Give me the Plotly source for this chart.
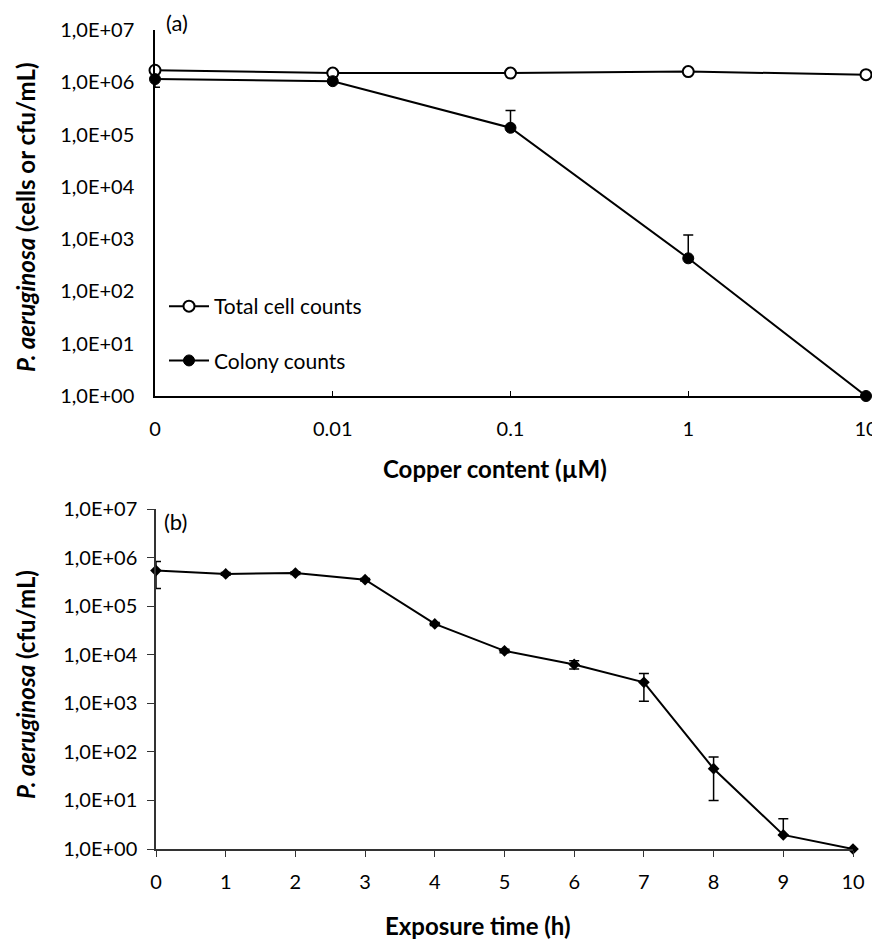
import plotly.graph_objects as go

# ---- Panel (a) data ----
copper_cats = ["0", "0.01", "0.1", "1", "10"]
total_cells = [1.7e6, 1.5e6, 1.5e6, 1.6e6, 1.4e6]
colony_a = [1.15e6, 1.05e6, 1.35e5, 4.3e2, 1.0]
colony_a_err_plus = [0, 0, 1.55e5, 7.7e2, 0]
colony_a_err_minus = [3.5e5, 0, 0, 0, 0]

# ---- Panel (b) data ----
time_h = [0, 1, 2, 3, 4, 5, 6, 7, 8, 9, 10]
colony_b = [5.4e5, 4.6e5, 4.8e5, 3.5e5, 4.3e4, 1.2e4, 6.3e3, 2.7e3, 45, 1.95, 1.0]
colony_b_err_plus = [2.9e5, 3e4, 3e4, 2e4, 3e3, 1e3, 1.2e3, 1.4e3, 33, 2.25, 0]
colony_b_err_minus = [3.1e5, 3e4, 3e4, 2e4, 3e3, 1e3, 1.2e3, 1.6e3, 35, 0, 0]

ytick_vals = [1, 10, 100, 1e3, 1e4, 1e5, 1e6, 1e7]
ytick_text = ["1,0E+00", "1,0E+01", "1,0E+02", "1,0E+03", "1,0E+04", "1,0E+05", "1,0E+06", "1,0E+07"]

FONT = "Lato"
OFF = 8                # page body margin
W, H = 880 - OFF, 945 - OFF


def px(x):
    return (x - OFF) / W


def py(y):
    return 1 - (y - OFF) / H


fig = go.Figure()

fig.add_trace(go.Scatter(
    x=copper_cats, y=total_cells, mode="lines+markers", name="Total cell counts",
    line=dict(color="black", width=2),
    marker=dict(symbol="circle", size=11, color="white", line=dict(color="black", width=2)),
    xaxis="x", yaxis="y", cliponaxis=False, legendgroup="a1",
))
fig.add_trace(go.Scatter(
    x=copper_cats, y=colony_a, mode="lines+markers", name="Colony counts",
    line=dict(color="black", width=2),
    marker=dict(symbol="circle", size=11, color="black", line=dict(color="black", width=1)),
    error_y=dict(type="data", array=colony_a_err_plus, arrayminus=colony_a_err_minus,
                 symmetric=False, color="black", thickness=1.5, width=5),
    xaxis="x", yaxis="y", cliponaxis=False, legendgroup="a2",
))
fig.add_trace(go.Scatter(
    x=time_h, y=colony_b, mode="lines+markers", showlegend=False,
    line=dict(color="black", width=2),
    marker=dict(symbol="diamond", size=9, color="black"),
    error_y=dict(type="data", array=colony_b_err_plus, arrayminus=colony_b_err_minus,
                 symmetric=False, color="black", thickness=1.5, width=5),
    xaxis="x2", yaxis="y2", cliponaxis=False,
))

top_x0, top_x1, top_y0, top_y1 = 155, 866, 30, 396
bot_x0, bot_x1, bot_y0, bot_y1 = 156, 853, 509, 849

tickfont = dict(family=FONT, size=20, color="black")

fig.update_layout(
    width=W, height=H,
    margin=dict(l=0, r=0, t=0, b=0, autoexpand=False),
    paper_bgcolor="white", plot_bgcolor="white",
    font=dict(family=FONT, size=20, color="black"),
    showlegend=True,
    legend=dict(x=px(164), y=py(286), xanchor="left", yanchor="top",
                font=dict(family=FONT, size=21, color="black"),
                bgcolor="rgba(0,0,0,0)", tracegroupgap=24, itemwidth=40),
    xaxis=dict(
        domain=[px(top_x0), px(top_x1)], anchor="y", type="category", automargin=False,
        range=[0, 4], showline=True, linecolor="black", linewidth=1.5,
        ticks="inside", ticklen=5, tickcolor="black", showgrid=False, zeroline=False,
        tickfont=tickfont, ticklabelstandoff=14,
    ),
    yaxis=dict(
        domain=[py(top_y1), py(top_y0)], anchor="x", type="log", automargin=False,
        range=[0, 7], tickvals=ytick_vals, ticktext=ytick_text,
        showline=True, linecolor="black", linewidth=1.5, ticks="",
        showgrid=False, zeroline=False, tickfont=tickfont, ticklabelstandoff=15,
    ),
    xaxis2=dict(
        domain=[px(bot_x0), px(bot_x1)], anchor="y2", range=[0, 10], dtick=1, automargin=False,
        showline=True, linecolor="#333", linewidth=1.5,
        ticks="outside", ticklen=6, tickcolor="#333", showgrid=False, zeroline=False,
        tickfont=tickfont, ticklabelstandoff=8,
    ),
    yaxis2=dict(
        domain=[py(bot_y1), py(bot_y0)], anchor="x2", type="log", automargin=False,
        range=[0, 7], tickvals=ytick_vals, ticktext=ytick_text,
        showline=True, linecolor="#333", linewidth=1.5, ticks="outside", ticklen=7,
        tickcolor="#333", showgrid=False, zeroline=False, tickfont=tickfont, ticklabelstandoff=6,
    ),
    annotations=[
        dict(text="(a)", x=px(164), y=py(23), xref="paper", yref="paper",
             xanchor="left", yanchor="middle", showarrow=False, font=dict(family=FONT, size=22)),
        dict(text="(b)", x=px(162), y=py(521), xref="paper", yref="paper",
             xanchor="left", yanchor="middle", showarrow=False, font=dict(family=FONT, size=22)),
        dict(text="<b><i>P. aeruginosa</i> (cells or cfu/mL)</b>", x=px(25), y=py(217),
             xref="paper", yref="paper", textangle=-90, showarrow=False,
             xanchor="center", yanchor="middle", font=dict(family=FONT, size=24)),
        dict(text="<b><i>P. aeruginosa</i> (cfu/mL)</b>", x=px(25), y=py(685),
             xref="paper", yref="paper", textangle=-90, showarrow=False,
             xanchor="center", yanchor="middle", font=dict(family=FONT, size=24)),
        dict(text="<b>Copper content (µM)</b>", x=px(495), y=py(468),
             xref="paper", yref="paper", showarrow=False,
             xanchor="center", yanchor="middle", font=dict(family=FONT, size=24)),
        dict(text="<b>Exposure time (h)</b>", x=px(478), y=py(925),
             xref="paper", yref="paper", showarrow=False,
             xanchor="center", yanchor="middle", font=dict(family=FONT, size=24)),
    ],
)

fig.write_html("out.html")
